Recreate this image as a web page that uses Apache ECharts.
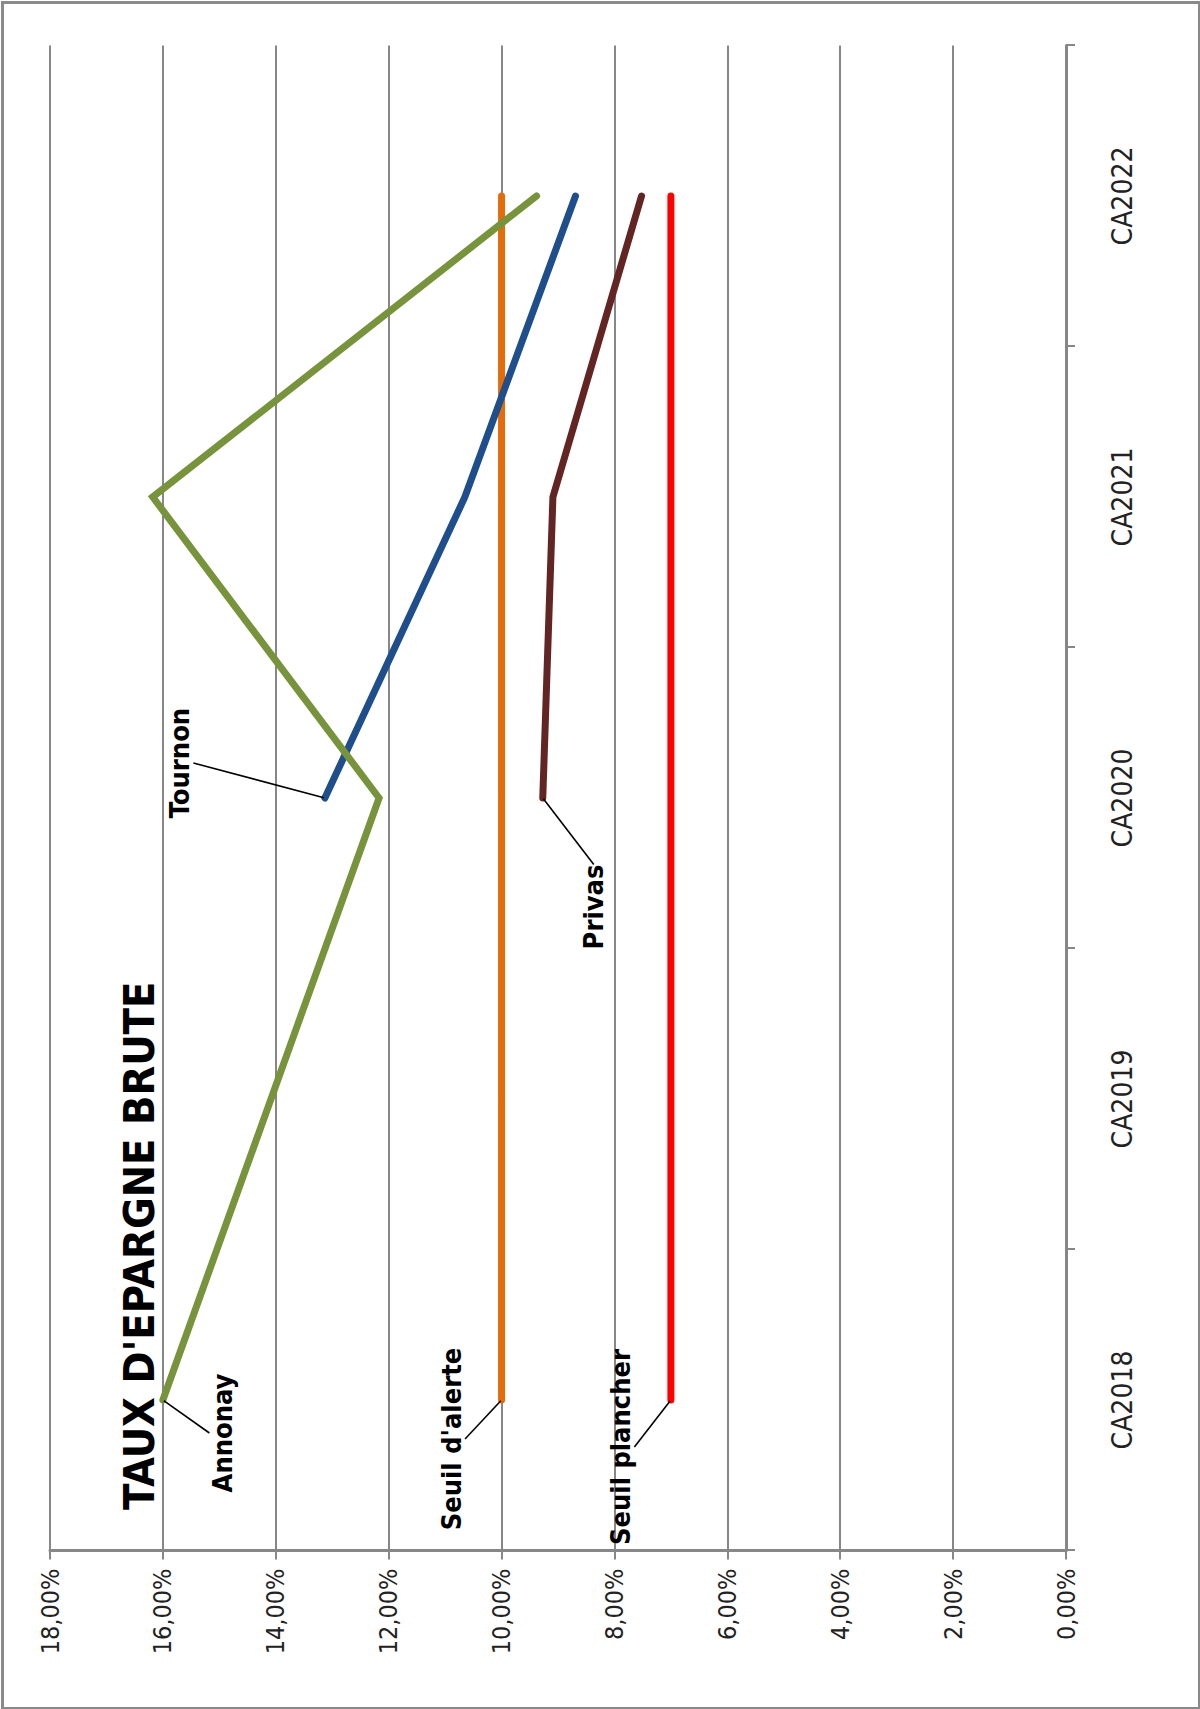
<!DOCTYPE html>
<html>
<head>
<meta charset="utf-8">
<script src="https://cdn.jsdelivr.net/npm/echarts@6/dist/echarts.min.js"></script>
<style>
  html, body { margin: 0; padding: 0; background: #fff; }
  #frame {
    position: absolute; left: 1px; top: 1px; width: 1194px; height: 1703px;
    border: 3px solid #8a8a8a; box-sizing: content-box;
    z-index: 5; pointer-events: none; background: transparent;
  }
  /* chart is drawn landscape, then turned a quarter turn to the left */
  #main {
    position: absolute; left: 0; top: 0; width: 1709px; height: 1200px;
    transform-origin: 0 0;
    transform: translateY(1709px) rotate(-90deg);
  }
</style>
</head>
<body>
<div id="main"></div>
<div id="frame"></div>
<script>
  var categories = ['CA2018', 'CA2019', 'CA2020', 'CA2021', 'CA2022'];
  // taux en %
  var annonay = [16.0, null, 12.17, 16.18, 9.38];
  var tournon = [null, null, 13.13, 10.65, 8.69];
  var privas = [null, null, 9.27, 9.09, 7.52];
  var seuilAlerte = [10, 10, 10, 10, 10];
  var seuilPlancher = [7, 7, 7, 7, 7];
  var yTicks = [0, 2, 4, 6, 8, 10, 12, 14, 16, 18];

  var FONT = '"Liberation Sans Narrow", "DejaVu Sans Condensed", "Liberation Sans", sans-serif';
  var GRAY = '#878787';

  // donnees avec une etiquette sur un seul point
  function withLabel(values, idx) {
    return values.map(function (v, i) {
      if (i !== idx) return v;
      return { value: v, label: { show: true }, labelLine: { show: true } };
    });
  }

  function lineSeries(name, values, color, idx, dx, dy) {
    return {
      name: name,
      type: 'line',
      data: withLabel(values, idx),
      connectNulls: true,
      symbol: 'circle',
      symbolSize: 2,
      itemStyle: { color: color },
      lineStyle: { color: color, width: 7, cap: 'round', join: 'miter' },
      label: {
        show: false,
        position: 'inside',
        formatter: name,
        color: '#000',
        fontFamily: FONT,
        fontWeight: 'bold',
        fontSize: 27
      },
      labelLine: {
        show: false,
        smooth: false,
        length2: 0,
        lineStyle: { color: '#000', width: 1.6 }
      },
      labelLayout: { dx: dx, dy: dy },
      emphasis: { disabled: true },
      z: 3
    };
  }

  var option = {
    animation: false,
    backgroundColor: '#fff',
    title: {
      text: "TAUX D'EPARGNE BRUTE",
      left: 194,
      top: 112,
      textStyle: { fontFamily: FONT, fontWeight: 'bold', fontSize: 43, color: '#000' }
    },
    grid: { left: 158.5, right: 45.5, top: 50, bottom: 134, containLabel: false },
    xAxis: {
      type: 'category',
      data: categories,
      boundaryGap: true,
      axisLine: { lineStyle: { color: GRAY, width: 3 } },
      axisTick: { show: true, length: 9, lineStyle: { color: GRAY, width: 2 } },
      axisLabel: { margin: 42, fontFamily: FONT, fontSize: 28, color: '#222' },
      splitLine: { show: false }
    },
    yAxis: {
      type: 'value',
      min: yTicks[0],
      max: yTicks[yTicks.length - 1],
      interval: 2,
      axisLine: { show: true, lineStyle: { color: GRAY, width: 3 } },
      axisTick: { show: true, length: 9, lineStyle: { color: GRAY, width: 2 } },
      axisLabel: {
        margin: 18,
        fontFamily: FONT,
        fontSize: 25,
        color: '#222',
        formatter: function (v) { return v.toFixed(2).replace('.', ',') + '%'; }
      },
      splitLine: { lineStyle: { color: GRAY, width: 2 } }
    },
    series: [
      lineSeries("Seuil d'alerte", seuilAlerte, '#E46C0A', 0, -39, -50),
      lineSeries('Seuil plancher', seuilPlancher, '#FF0000', 0, -47, -50),
      lineSeries('Privas', privas, '#632523', 2, -109, 51),
      lineSeries('Tournon', tournon, '#1F4E8C', 2, 35, -145),
      lineSeries('Annonay', annonay, '#77933C', 0, -33, 60)
    ]
  };

  var myChart = echarts.init(document.getElementById('main'), null, { renderer: 'svg' });
  myChart.setOption(option);
</script>
</body>
</html>
